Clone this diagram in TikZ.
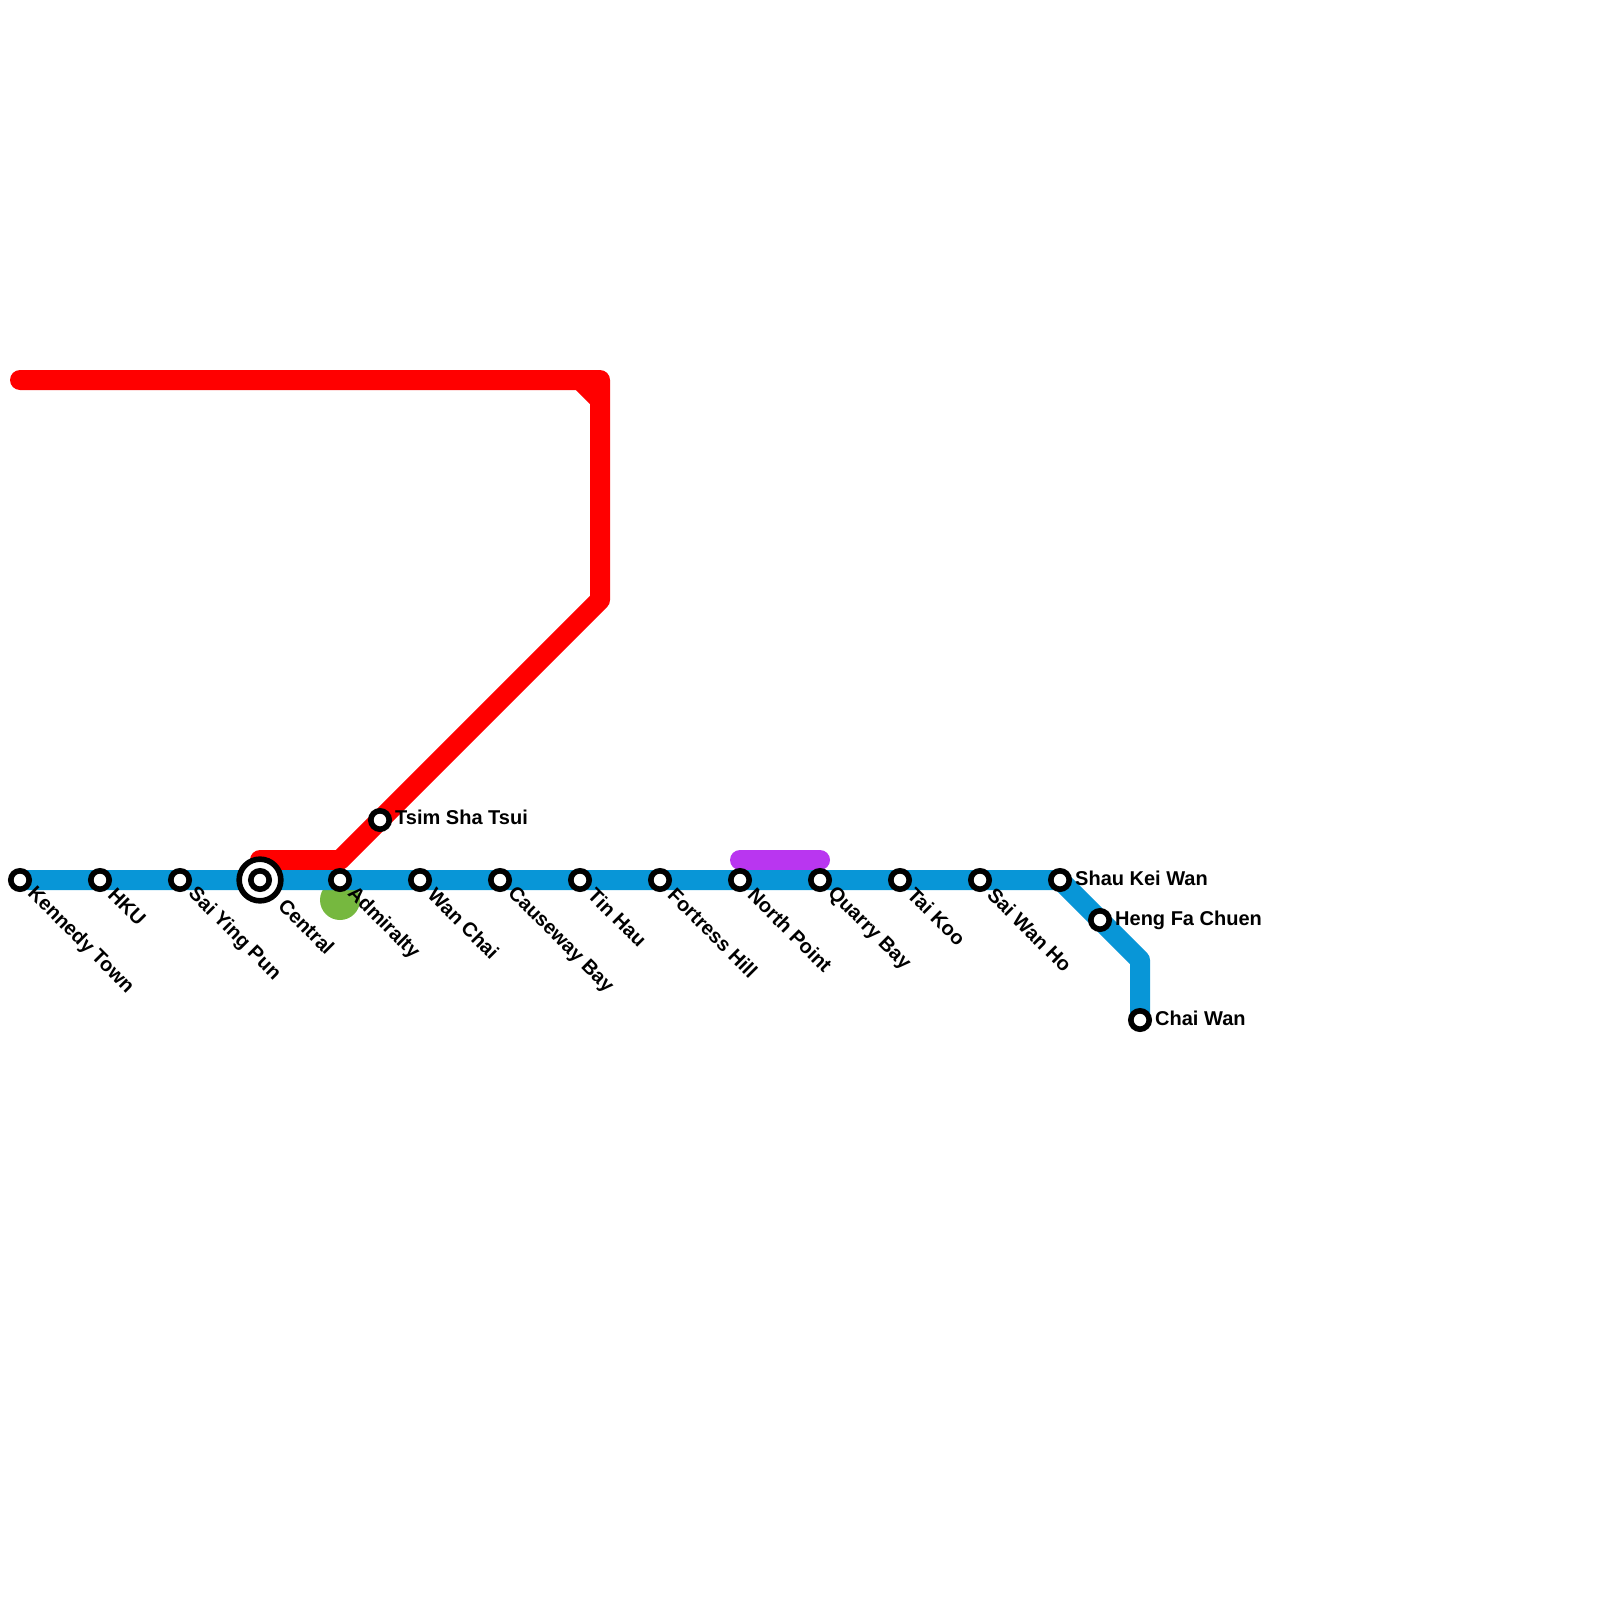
\documentclass[tikz,border=0pt]{standalone}
\usepackage{fontspec}
\setmainfont{Liberation Sans}
\definecolor{bluel}{HTML}{0896D7}
\definecolor{redl}{HTML}{FF0000}
\definecolor{greenl}{HTML}{76B83F}
\definecolor{purplel}{HTML}{B936F0}
\tikzset{
  x=1pt,y=-1pt,
  lineseg/.style={line width=20pt,line join=round},
  stn/.style={circle,draw=black,fill=white,line width=5.6pt,minimum size=18.4pt,inner sep=0pt,outer sep=0pt},
  hubo/.style={circle,draw=black,fill=white,line width=5.6pt,minimum size=41.7pt,inner sep=0pt,outer sep=0pt},
  hubi/.style={circle,draw=black,fill=white,line width=5.6pt,minimum size=18.4pt,inner sep=0pt,outer sep=0pt},
  lab/.style={font=\bfseries\fontsize{20}{22}\selectfont,inner sep=0pt,anchor=west,text=black},
  dlab/.style={lab,rotate=-45},
}
\begin{document}
\begin{tikzpicture}
\useasboundingbox (0,0) rectangle (1600,1600);
% station positions
\coordinate (kt) at (20,880);
\coordinate (hku) at (100,880);
\coordinate (syp) at (180,880);
\coordinate (cen) at (260,880);
\coordinate (adm) at (340,880);
\coordinate (wc) at (420,880);
\coordinate (cb) at (500,880);
\coordinate (th) at (580,880);
\coordinate (fh) at (660,880);
\coordinate (np) at (740,880);
\coordinate (qb) at (820,880);
\coordinate (tk) at (900,880);
\coordinate (swh) at (980,880);
\coordinate (skw) at (1060,880);
\coordinate (hfc) at (1100,920);
\coordinate (bend) at (1140,960);
\coordinate (cw) at (1140,1020);
\coordinate (tst) at (380,820);
\coordinate (ra) at (260,860);
\coordinate (rb) at (340,860);
\coordinate (rc) at (600,600);
\coordinate (rd) at (600,400);
\coordinate (re) at (580,380);
\coordinate (rf) at (600,380);
\coordinate (rg) at (20,380);
\coordinate (pa) at (740,860);
\coordinate (pb) at (820,860);
% lines
\node[circle,fill=greenl,minimum size=40pt,inner sep=0pt] (grn) at (340,900) {};
\draw[lineseg,redl,line cap=round] (ra) -- (rb) -- (rc) -- (rd) -- (rf) -- (rg);
\draw[lineseg,redl] (re) -- (rd);
\draw[lineseg,purplel,line cap=round] (pa) -- (pb);
\draw[lineseg,bluel] (kt) -- (skw) -- (hfc) -- (bend) -- (cw);
% stations
\foreach \s in {kt,hku,syp,adm,wc,cb,th,fh,np,qb,tk,swh,skw,hfc,cw,tst}
  \node[stn] (n\s) at (\s) {};
\node[hubo] (ncen) at (cen) {};
\node[hubi] (ncenb) at (cen) {};
% labels
\node[dlab] (lkt) at ([shift={(10.5,10.5)}]kt) {Kennedy Town};
\node[dlab] (lhku) at ([shift={(11.5,11.5)}]hku) {HKU};
\node[dlab] (lsyp) at ([shift={(11,11)}]syp) {Sai Ying Pun};
\node[dlab] (lcen) at ([shift={(22,22)}]cen) {Central};
\node[dlab] (ladm) at ([shift={(10.5,10.5)}]adm) {Admiralty};
\node[dlab] (lwc) at ([shift={(11.5,11.5)}]wc) {Wan Chai};
\node[dlab] (lcb) at ([shift={(10.5,10.5)}]cb) {Causeway Bay};
\node[dlab] (lth) at ([shift={(11.5,11.5)}]th) {Tin Hau};
\node[dlab] (lfh) at ([shift={(11.5,11.5)}]fh) {Fortress Hill};
\node[dlab] (lnp) at ([shift={(11.5,11.5)}]np) {North Point};
\node[dlab] (lqb) at ([shift={(10.5,10.5)}]qb) {Quarry Bay};
\node[dlab] (ltk) at ([shift={(11,11)}]tk) {Tai Koo};
\node[dlab] (lswh) at ([shift={(11,11)}]swh) {Sai Wan Ho};
\node[lab] (lskw) at ([shift={(15,-2)}]skw) {Shau Kei Wan};
\node[lab] (lhfc) at ([shift={(15,0)}]hfc) {Heng Fa Chuen};
\node[lab] (lcw) at ([shift={(15,-2)}]cw) {Chai Wan};
\node[lab] (ltst) at ([shift={(15,-3)}]tst) {Tsim Sha Tsui};
\end{tikzpicture}
\end{document}
